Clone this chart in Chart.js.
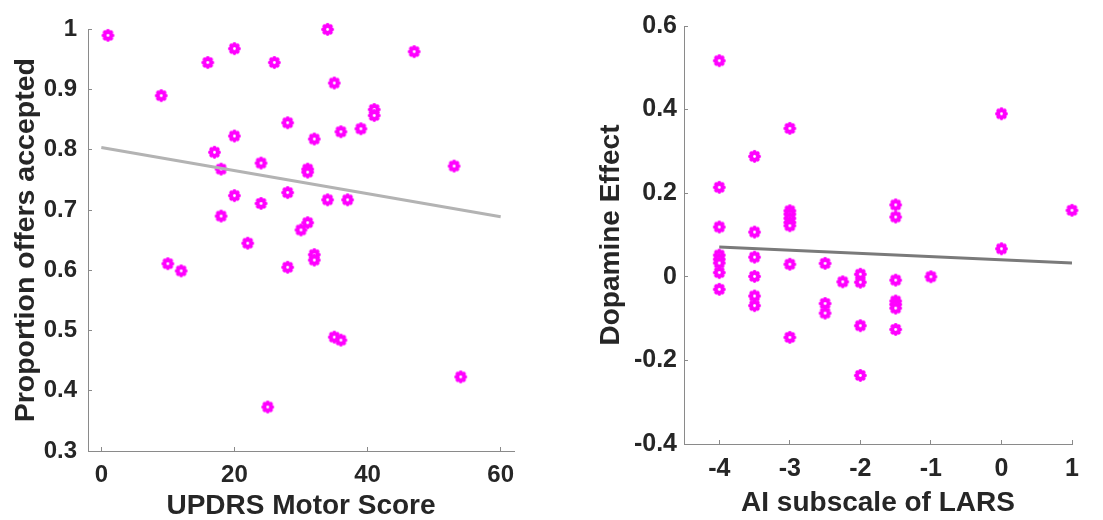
<!DOCTYPE html>
<html>
<head>
<meta charset="utf-8">
<script src="https://cdn.jsdelivr.net/npm/chart.js@4"></script>
<style>
  body { margin: 0; background: #fff; }
  #chart-left { position: absolute; left: 0; top: 0; }
  #chart-right { position: absolute; left: 560px; top: 0; }
</style>
</head>
<body>
<canvas id="chart-left" width="560" height="520"></canvas>
<canvas id="chart-right" width="543" height="520"></canvas>
<script>
// left panel: UPDRS motor score vs proportion of offers accepted
const updrsScore = [1, 34, 20, 16, 26, 47, 9, 35, 41, 41, 28, 36, 39, 20, 32, 17, 24, 18, 31, 31,
  53, 20, 28, 24, 34, 37, 18, 31, 30, 22, 32, 32, 10, 12, 28, 35, 36, 54, 25];
const offersAccepted = [0.990, 1.0, 0.968, 0.945, 0.945, 0.963, 0.890, 0.911, 0.867, 0.857,
  0.845, 0.830, 0.835, 0.823, 0.818, 0.796, 0.778, 0.768, 0.768, 0.763,
  0.773, 0.724, 0.729, 0.711, 0.717, 0.717, 0.690, 0.679, 0.667, 0.645,
  0.626, 0.617, 0.611, 0.599, 0.605, 0.489, 0.484, 0.423, 0.373];
const leftFitX = [0, 60];
const leftFitY = [0.804, 0.689];
const leftXTicks = [0, 20, 40, 60];
const leftYTicks = [0.3, 0.4, 0.5, 0.6, 0.7, 0.8, 0.9, 1];

// right panel: AI subscale of LARS vs dopamine effect
const aiSubscale = [-4, -4, -4, -4, -4, -4, -4, -4,
  -3.5, -3.5, -3.5, -3.5, -3.5, -3.5,
  -3, -3, -3, -3, -3, -3, -3, -3,
  -2.5, -2.5, -2.5, -2.25,
  -2, -2, -2, -2,
  -1.5, -1.5, -1.5, -1.5, -1.5, -1.5, -1.5,
  -1, 0, 0, 1];
const dopamineEffect = [0.517, 0.214, 0.119, 0.052, 0.042, 0.033, 0.010, -0.030,
  0.288, 0.107, 0.047, 0.001, -0.046, -0.069,
  0.355, 0.158, 0.150, 0.140, 0.130, 0.122, 0.030, -0.145,
  0.032, -0.064, -0.087, -0.012,
  0.006, -0.013, -0.117, -0.236,
  0.172, 0.143, -0.008, -0.058, -0.066, -0.075, -0.126,
  0.000, 0.390, 0.067, 0.159];
const rightFitX = [-4, 1];
const rightFitY = [0.071, 0.033];
const rightXTicks = [-4, -3, -2, -1, 0, 1];
const rightYTicks = [-0.4, -0.2, 0, 0.2, 0.4, 0.6];

Chart.defaults.font.family = '"Liberation Sans", Arial, sans-serif';
Chart.defaults.font.weight = "bold";
Chart.defaults.color = "#262626";

// magenta asterisk-ish marker with a white centre
function makeMarker() {
  const c = document.createElement("canvas");
  c.width = 15;
  c.height = 15;
  const g = c.getContext("2d");
  g.fillStyle = "#ff00ff";
  g.beginPath();
  g.arc(7.5, 7.5, 4.6, 0, Math.PI * 2);
  g.fill();
  for (let k = 0; k < 8; k++) {
    const a = (k * Math.PI) / 4;
    g.beginPath();
    g.arc(7.5 + 4.3 * Math.cos(a), 7.5 + 4.3 * Math.sin(a), 2.1, 0, Math.PI * 2);
    g.fill();
  }
  g.fillStyle = "#ffffff";
  g.beginPath();
  g.arc(7.5, 7.5, 1.4, 0, Math.PI * 2);
  g.fill();
  return c;
}
const marker = makeMarker();

function toPoints(xs, ys) {
  return xs.map((x, i) => ({ x: x, y: ys[i] }));
}

function makeConfig(opts) {
  return {
    type: "scatter",
    data: {
      datasets: [
        {
          type: "line",
          data: toPoints(opts.fitX, opts.fitY),
          borderColor: opts.lineColor,
          borderWidth: 3,
          pointRadius: 0,
          fill: false,
          order: 0,
        },
        {
          data: toPoints(opts.xs, opts.ys),
          pointStyle: marker,
          pointRadius: 6,
          clip: false,
          order: 1,
        },
      ],
    },
    options: {
      responsive: false,
      animation: false,
      layout: { padding: opts.padding },
      plugins: {
        legend: { display: false },
        tooltip: { enabled: false },
      },
      scales: {
        x: {
          type: "linear",
          min: opts.xMin,
          max: opts.xMax,
          afterBuildTicks: (axis) => {
            axis.ticks = opts.xTicks.map((v) => ({ value: v }));
          },
          afterFit: (scale) => {
            scale.height = opts.xAxisHeight;
          },
          border: { display: true, color: "#8a8a8a", width: 1 },
          grid: {
            drawOnChartArea: false,
            drawTicks: true,
            tickLength: -4,
            color: "#8a8a8a",
          },
          ticks: {
            padding: opts.xTickPad,
            font: { size: opts.tickSize, weight: "bold" },
            callback: (value) => String(value),
          },
          title: {
            display: true,
            text: opts.xTitle,
            font: { size: 28, weight: "bold", lineHeight: 1 },
            padding: { top: 0, bottom: opts.xTitlePad },
          },
        },
        y: {
          type: "linear",
          min: opts.yMin,
          max: opts.yMax,
          afterBuildTicks: (axis) => {
            axis.ticks = opts.yTicks.map((v) => ({ value: v }));
          },
          afterFit: (scale) => {
            scale.width = opts.yAxisWidth;
          },
          border: { display: true, color: "#8a8a8a", width: 1 },
          grid: {
            drawOnChartArea: false,
            drawTicks: true,
            tickLength: -4,
            color: "#8a8a8a",
          },
          ticks: {
            padding: opts.yTickPad,
            font: { size: opts.tickSize, weight: "bold" },
            callback: (value) => String(value),
          },
          title: {
            display: true,
            text: opts.yTitle,
            font: { size: opts.yTitleSize, weight: "bold", lineHeight: 1 },
            padding: { top: opts.yTitlePad, bottom: 0 },
          },
        },
      },
    },
  };
}

const chartLeft = new Chart(
  document.getElementById("chart-left"),
  makeConfig({
    xs: updrsScore,
    ys: offersAccepted,
    fitX: leftFitX,
    fitY: leftFitY,
    lineColor: "#b3b3b3",
    xMin: -2,
    xMax: 62,
    yMin: 0.3,
    yMax: 1,
    xTicks: leftXTicks,
    yTicks: leftYTicks,
    xTitle: "UPDRS Motor Score",
    yTitle: "Proportion offers accepted",
    padding: { top: 23, right: 46, left: 0, bottom: 0 },
    xAxisHeight: 69,
    yAxisWidth: 88,
    tickSize: 24,
    xTickPad: 14,
    yTickPad: 15,
    xTitlePad: 0,
    yTitlePad: 12,
    yTitleSize: 28.5,
  })
);

const chartRight = new Chart(
  document.getElementById("chart-right"),
  makeConfig({
    xs: aiSubscale,
    ys: dopamineEffect,
    fitX: rightFitX,
    fitY: rightFitY,
    lineColor: "#7a7a7a",
    xMin: -4.5,
    xMax: 1,
    yMin: -0.4,
    yMax: 0.6,
    xTicks: rightXTicks,
    yTicks: rightYTicks,
    xTitle: "AI subscale of LARS",
    yTitle: "Dopamine Effect",
    padding: { top: 22, right: 31, left: 0, bottom: 0 },
    xAxisHeight: 76,
    yAxisWidth: 124,
    tickSize: 25,
    xTickPad: 14,
    yTickPad: 11,
    xTitlePad: 3,
    yTitlePad: 37,
    yTitleSize: 28,
  })
);
</script>
</body>
</html>
